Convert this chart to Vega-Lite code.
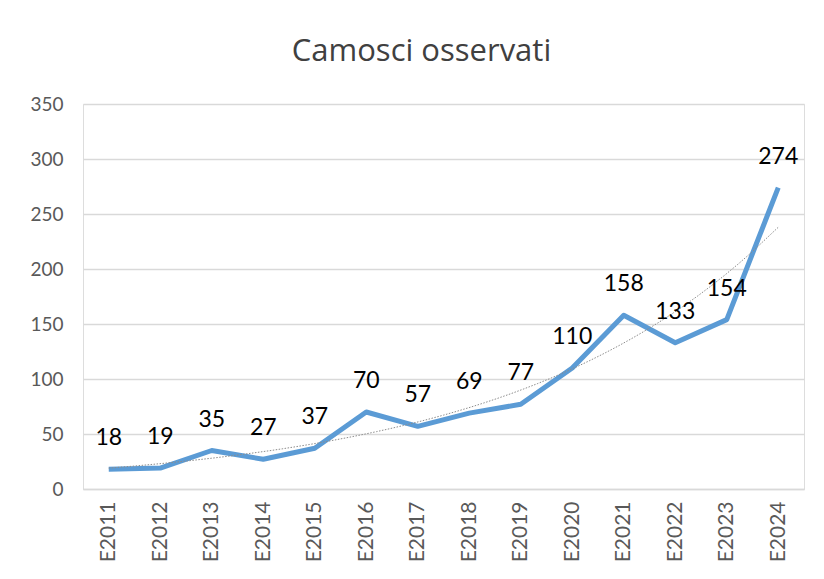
{
  "$schema": "https://vega.github.io/schema/vega-lite/v6.json",
  "width": 721,
  "height": 385,
  "autosize": {"type": "none"},
  "padding": {"left": 83, "top": 104, "right": 20, "bottom": 90},
  "background": "white",
  "title": {"text": "Camosci osservati", "font": "Open Sans", "fontSize": 31, "fontWeight": "normal", "color": "#404040", "anchor": "middle", "offset": 27, "dx": -22},
  "data": {"values": [
    {"year": 2011, "count": 18},
    {"year": 2012, "count": 19},
    {"year": 2013, "count": 35},
    {"year": 2014, "count": 27},
    {"year": 2015, "count": 37},
    {"year": 2016, "count": 70},
    {"year": 2017, "count": 57},
    {"year": 2018, "count": 69},
    {"year": 2019, "count": 77},
    {"year": 2020, "count": 110},
    {"year": 2021, "count": 158},
    {"year": 2022, "count": 133},
    {"year": 2023, "count": 154},
    {"year": 2024, "count": 274}
  ]},
  "encoding": {
    "x": {
      "field": "year", "type": "quantitative",
      "scale": {"domain": [2010.5, 2024.5], "nice": false, "zero": false},
      "axis": {
        "title": null,
        "values": [2011, 2012, 2013, 2014, 2015, 2016, 2017, 2018, 2019, 2020, 2021, 2022, 2023, 2024],
        "labelExpr": "'E' + datum.value",
        "labelAngle": -90,
        "labelFont": "Lato", "labelFontSize": 21, "labelColor": "#595959",
        "labelPadding": 12,
        "grid": false, "ticks": false,
        "domain": true, "domainColor": "#D9D9D9", "domainWidth": 1.5
      }
    }
  },
  "layer": [
    {
      "mark": {"type": "line", "color": "#5B9BD5", "strokeWidth": 5, "strokeJoin": "round"},
      "encoding": {
        "y": {
          "field": "count", "type": "quantitative",
          "scale": {"domain": [0, 350], "nice": false},
          "axis": {
            "title": null,
            "values": [0, 50, 100, 150, 200, 250, 300, 350],
            "labelFont": "Lato", "labelFontSize": 19, "labelColor": "#595959",
            "labelPadding": 20,
            "grid": true, "gridColor": "#D9D9D9", "gridWidth": 1.5,
            "domain": false, "ticks": false
          }
        }
      }
    },
    {
      "transform": [{"regression": "count", "on": "year", "method": "exp"}],
      "mark": {"type": "line", "color": "#8C8C8C", "strokeWidth": 1, "strokeDash": [1.5, 1.5]},
      "encoding": {"y": {"field": "count", "type": "quantitative"}}
    },
    {
      "mark": {"type": "text", "dy": -31, "font": "Lato", "fontSize": 23, "color": "#000000"},
      "encoding": {
        "y": {"field": "count", "type": "quantitative"},
        "text": {"field": "count", "type": "quantitative"}
      }
    }
  ]
}
